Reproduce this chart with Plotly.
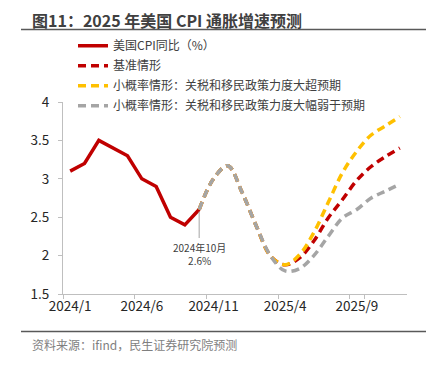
import plotly.graph_objects as go

months = ["2024/1", "2024/2", "2024/3", "2024/4", "2024/5", "2024/6", "2024/7", "2024/8",
          "2024/9", "2024/10", "2024/11", "2024/12", "2025/1", "2025/2", "2025/3", "2025/4",
          "2025/5", "2025/6", "2025/7", "2025/8", "2025/9", "2025/10", "2025/11", "2025/12"]

actual_cpi = [3.1, 3.2, 3.5, 3.4, 3.3, 3.0, 2.9, 2.5, 2.4, 2.6]
# shared forecast path 2024/10 .. 2025/3
forecast_common = [2.6, 3.0, 3.17, 2.82, 2.38, 1.99]
# scenario paths 2025/4 .. 2025/12
base_tail = [1.88, 1.97, 2.19, 2.49, 2.73, 2.98, 3.16, 3.29, 3.40]
upside_tail = [1.88, 2.01, 2.30, 2.69, 3.08, 3.36, 3.57, 3.69, 3.81]
downside_tail = [1.80, 1.83, 2.00, 2.25, 2.49, 2.60, 2.75, 2.84, 2.93]

tick_labels = ["2024/1", "2024/6", "2024/11", "2025/4", "2025/9"]

names = ["美国CPI同比（%）", "基准情形",
         "小概率情形：关税和移民政策力度大超预期",
         "小概率情形：关税和移民政策力度大幅弱于预期"]

n_act = len(actual_cpi)
pad = [None] * (n_act - 1)
base = pad + forecast_common + base_tail
upside = pad + forecast_common + upside_tail
downside = pad + forecast_common + downside_tail

RED = "#C00000"
YEL = "#FFC000"
GRY = "#A5A5A5"
FONT = "Noto Sans CJK SC, Noto Sans, sans-serif"

fig = go.Figure()
fig.add_trace(go.Scatter(x=months[:n_act], y=actual_cpi, mode="lines", name=names[0],
                         legendgroup="g0",
                         line=dict(color=RED, width=3.5)))
fig.add_trace(go.Scatter(x=months, y=base, mode="lines", name=names[1], legendgroup="g1",
                         line=dict(color=RED, width=3.5, dash="8px,5px", shape="spline", smoothing=1)))
fig.add_trace(go.Scatter(x=months, y=upside, mode="lines", name=names[2], legendgroup="g2",
                         line=dict(color=YEL, width=3.5, dash="8px,5px", shape="spline", smoothing=1)))
fig.add_trace(go.Scatter(x=months, y=downside, mode="lines", name=names[3], legendgroup="g3",
                         line=dict(color=GRY, width=3.5, dash="8px,5px", shape="spline", smoothing=1)))

# page body has an 8px margin: figure is placed at (8, 8) in the window
OFF = 8
W, H = 434 - OFF, 366 - OFF
L = 63 - OFF
T = 102 - OFF
R = W - (407 - OFF)
B = H - (294.5 - OFF)
pw, ph = W - L - R, H - T - B


def px(xp):
    return (xp - OFF - L) / pw


def py(yp):
    return (H - B - (yp - OFF)) / ph


fig.update_layout(
    width=W, height=H,
    margin=dict(l=L, r=R, t=T, b=B, autoexpand=False),
    paper_bgcolor="white", plot_bgcolor="white",
    font=dict(family=FONT, color="#262626"),
    showlegend=True,
    legend=dict(x=px(73), y=py(31), xanchor="left", yanchor="top",
                bgcolor="rgba(0,0,0,0)", font=dict(size=12, color="#404040"),
                tracegroupgap=1),
    xaxis=dict(type="category", categoryorder="array", categoryarray=months,
               range=[-0.5, len(months) - 0.5],
               tickmode="array", tickvals=tick_labels, ticktext=tick_labels,
               tickson="boundaries", ticks="outside", ticklen=4, tickcolor="#BFBFBF",
               tickangle=0,
               showline=True, linecolor="#BFBFBF", linewidth=1.3, showgrid=False,
               tickfont=dict(size=13.5, color="#262626"), zeroline=False),
    yaxis=dict(range=[1.5, 4], tickvals=[1.5, 2, 2.5, 3, 3.5, 4],
               ticktext=["1.5", "2", "2.5", "3", "3.5", "4"],
               ticks="outside", ticklen=4, tickcolor="#BFBFBF", ticklabelstandoff=6,
               showline=True, linecolor="#BFBFBF", linewidth=1.3, showgrid=False,
               tickfont=dict(size=13.5, color="#262626"), zeroline=False),
)

fig.add_annotation(x=months[n_act - 1], y=actual_cpi[-1], xref="x", yref="y",
                   text="2024年10月<br>2.6%", showarrow=True, arrowhead=0,
                   arrowcolor="#A5A5A5", arrowwidth=1, ax=0, ay=44, standoff=2,
                   font=dict(size=10, color="#404040"))

fig.add_annotation(x=px(30), y=py(20), xref="paper", yref="paper", xanchor="left",
                   yanchor="middle", showarrow=False,
                   text="<b>图11：2025 年美国 CPI 通胀增速预测</b>",
                   font=dict(size=16, color="#404040", family=FONT))
fig.add_annotation(x=px(30), y=py(345), xref="paper", yref="paper", xanchor="left",
                   yanchor="middle", showarrow=False,
                   text="资料来源：ifind，民生证券研究院预测",
                   font=dict(size=12, color="#7F7F7F", family=FONT))

fig.add_shape(type="line", xref="paper", yref="paper", x0=px(21), x1=px(428),
              y0=py(29.3), y1=py(29.3), line=dict(color="#595959", width=1.5))
fig.add_shape(type="line", xref="paper", yref="paper", x0=px(21), x1=px(427),
              y0=py(332), y1=py(332), line=dict(color="#595959", width=1.5))

fig.write_html("out.html")
